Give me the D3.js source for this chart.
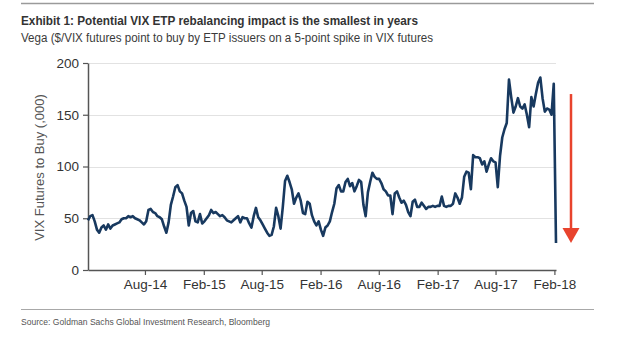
<!DOCTYPE html>
<html>
<head>
<meta charset="utf-8">
<script src="https://cdn.jsdelivr.net/npm/d3@7"></script>
<style>
  html, body { margin: 0; padding: 0; background: #fff; }
  svg { display: block; }
</style>
</head>
<body>
<svg id="chart" width="629" height="337"></svg>
<script>
// ---- data ----
const titleText = "Exhibit 1: Potential VIX ETP rebalancing impact is the smallest in years";
const subtitleText = "Vega ($/VIX futures point to buy by ETP issuers on a 5-point spike in VIX futures";
const sourceText = "Source: Goldman Sachs Global Investment Research, Bloomberg";
const yAxisTitle = "VIX Futures to Buy (,000)";
const startDate = "2014-02-04";   // first weekly observation
const endDate = "2018-02-06";     // last observation (after the Feb-18 spike)
const yTicks = [0, 50, 100, 150, 200];
const xTickDates = ["2014-08-01", "2015-02-01", "2015-08-01", "2016-02-01", "2016-08-01", "2017-02-01", "2017-08-01", "2018-02-01"];
const xTickLabels = ["Aug-14", "Feb-15", "Aug-15", "Feb-16", "Aug-16", "Feb-17", "Aug-17", "Feb-18"];
// weekly vega (thousands of VIX futures)
const vega2014 = [48, 52, 53, 47, 39, 36, 41, 43, 39, 44, 40, 43, 44, 45, 46, 49, 50, 50, 52, 51, 52, 50, 49, 48, 46, 44, 47, 58, 59, 56, 55, 52, 51, 49, 42, 36, 46, 63, 71, 80, 82, 76, 74, 67, 61, 43, 55, 57, 47, 46, 54, 45];
const vega2015 = [47, 50, 53, 58, 55, 56, 54, 52, 53, 51, 48, 47, 46, 48, 50, 52, 46, 51, 50, 50, 45, 41, 52, 60, 51, 48, 44, 40, 36, 33, 34, 42, 60, 52, 40, 61, 86, 91, 85, 78, 64, 70, 74, 67, 55, 54, 66, 64, 53, 47, 43, 47];
const vega2016 = [39, 33, 41, 43, 47, 56, 64, 79, 82, 76, 76, 85, 88, 81, 84, 76, 81, 87, 85, 63, 52, 75, 85, 94, 90, 88, 88, 84, 78, 76, 72, 72, 54, 74, 76, 70, 65, 67, 63, 56, 52, 66, 68, 61, 61, 65, 62, 59, 61, 61, 62, 61];
const vega2017 = [62, 62, 71, 62, 61, 62, 62, 64, 74, 70, 64, 70, 90, 95, 94, 78, 111, 109, 109, 108, 102, 105, 95, 102, 108, 105, 104, 80, 110, 128, 136, 142, 184, 167, 152, 158, 166, 158, 156, 160, 150, 138, 167, 158, 170, 181, 186, 166, 153, 156, 155, 150];
const vega2018 = [180, 26];
const arrowFrom = 170, arrowTo = 26;

// ---- build ----
const values = [].concat(vega2014, vega2015, vega2016, vega2017, vega2018);
const parse = d3.utcParse("%Y-%m-%d");
const t0 = parse(startDate);
const series = values.map((v, i) => ({ date: d3.utcDay.offset(t0, 7 * i), value: v }));

const svg = d3.select("#chart");
const margin = { left: 88, right: 73, top: 63, bottom: 67 };
const W = 629, H = 337;

const x = d3.scaleUtc().domain([t0, parse(endDate)]).range([margin.left, W - margin.right]);
const y = d3.scaleLinear().domain([0, 200]).range([H - margin.bottom, margin.top]);

svg.append("rect").attr("width", W).attr("height", H).attr("fill", "#fff");

// top & bottom rules
svg.append("line").attr("x1", 21).attr("x2", 594).attr("y1", 3.5).attr("y2", 3.5)
  .attr("stroke", "#9a9a9a").attr("stroke-width", 1.5);
svg.append("line").attr("x1", 21).attr("x2", 594).attr("y1", 309.5).attr("y2", 309.5)
  .attr("stroke", "#a8a8a8").attr("stroke-width", 1.2);

// title & subtitle
svg.append("text").attr("x", 21).attr("y", 24.5)
  .attr("font-family", "'Liberation Sans Narrow', 'Arial Narrow', 'Liberation Sans', sans-serif")
  .attr("font-weight", "bold").attr("font-size", 13.5).attr("fill", "#333")
  .attr("textLength", 397).attr("lengthAdjust", "spacingAndGlyphs")
  .text(titleText);
svg.append("text").attr("x", 21).attr("y", 41.5)
  .attr("font-family", "'Liberation Sans Narrow', 'Arial Narrow', 'Liberation Sans', sans-serif")
  .attr("font-size", 12.5).attr("fill", "#3a3a3a")
  .attr("textLength", 412).attr("lengthAdjust", "spacingAndGlyphs")
  .text(subtitleText);

// source
svg.append("text").attr("x", 21).attr("y", 325)
  .attr("font-family", "'Liberation Sans Narrow', 'Arial Narrow', 'Liberation Sans', sans-serif")
  .attr("font-size", 9.5).attr("fill", "#555")
  .attr("textLength", 249).attr("lengthAdjust", "spacingAndGlyphs")
  .text(sourceText);

// gridlines
svg.append("g").selectAll("line").data(yTicks.filter(d => d > 0)).join("line")
  .attr("x1", margin.left).attr("x2", W - margin.right)
  .attr("y1", d => Math.round(y(d)) + 0.5).attr("y2", d => Math.round(y(d)) + 0.5)
  .attr("stroke", "#e2e2e2").attr("stroke-width", 1);

// axes
const fontAxis = "'Liberation Sans', Arial, Helvetica, sans-serif";
const yAxis = svg.append("g").attr("transform", `translate(${margin.left},0)`)
  .call(d3.axisLeft(y).tickValues(yTicks).tickSize(5).tickSizeOuter(0).tickPadding(4));
const xAxis = svg.append("g").attr("transform", `translate(0,${y(0)})`)
  .call(d3.axisBottom(x).tickValues(xTickDates.map(parse))
    .tickFormat((d, i) => xTickLabels[i]).tickSize(5).tickSizeOuter(0).tickPadding(4));
[yAxis, xAxis].forEach(g => {
  g.select(".domain").attr("stroke", "#555").attr("stroke-width", 1.5);
  g.selectAll(".tick line").attr("stroke", "#555").attr("stroke-width", 1.2);
  g.selectAll(".tick text").attr("font-family", fontAxis).attr("font-size", 13.5).attr("fill", "#333");
});

// y axis title
svg.append("text")
  .attr("transform", `translate(44,${(y(0) + y(200)) / 2 + 1}) rotate(-90)`)
  .attr("text-anchor", "middle")
  .attr("font-family", fontAxis).attr("font-size", 13).attr("fill", "#555")
  .text(yAxisTitle);

// series line
const line = d3.line().x(d => x(d.date)).y(d => y(d.value));
svg.append("path").datum(series)
  .attr("d", line).attr("fill", "none")
  .attr("stroke", "#18395f").attr("stroke-width", 2.6).attr("stroke-linejoin", "round");

// red arrow
const ax = x(parse(endDate)) + 15;
const headLen = 15, headHalf = 8.5;
svg.append("line").attr("x1", ax).attr("x2", ax)
  .attr("y1", y(arrowFrom)).attr("y2", y(arrowTo) - headLen + 1)
  .attr("stroke", "#e8432d").attr("stroke-width", 2.5);
svg.append("path")
  .attr("d", `M${ax - headHalf},${y(arrowTo) - headLen} L${ax + headHalf},${y(arrowTo) - headLen} L${ax},${y(arrowTo)} Z`)
  .attr("fill", "#e8432d");
</script>
</body>
</html>
